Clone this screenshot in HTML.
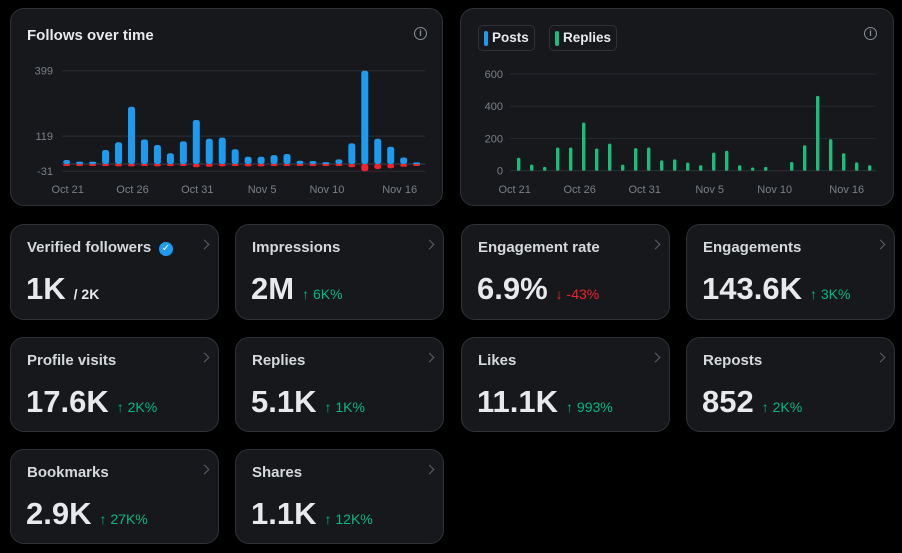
<!DOCTYPE html>
<html><head><meta charset="utf-8"><style>
*{box-sizing:border-box;margin:0;padding:0}
body{width:902px;height:553px;background:#000;font-family:"Liberation Sans",sans-serif;color:#e7e9ea;position:relative;overflow:hidden}
.card{position:absolute;background:#16181c;border:1px solid #2f3336;border-radius:14px}
.lbl{position:absolute;left:16px;top:14px;font-size:15px;font-weight:bold;color:#d6d9db;white-space:nowrap}
.val{position:absolute;left:15px;top:46px;font-size:31px;font-weight:bold;color:#e7e9ea;letter-spacing:0;white-space:nowrap}
.chg{font-size:14px;font-weight:normal;letter-spacing:0;margin-left:8px}
.up{color:#00ba7c}.dn{color:#f4212e}
.chev{position:absolute;right:10px;top:16px;width:7px;height:7px;border-top:1.5px solid #5b6066;border-right:1.5px solid #5b6066;transform:rotate(45deg)}
.info{position:absolute;width:13px;height:13px;border:1.3px solid #8b9096;border-radius:50%;font-size:9px;line-height:10px;text-align:center;color:#8b9096;font-weight:bold}
svg text{font-family:"Liberation Sans",sans-serif;font-size:11px;fill:#7b8086}
.leg{position:absolute;top:16px;height:26px;border:1px solid #2f3336;border-radius:5px;font-size:13.5px;font-weight:bold;line-height:24px;padding:0 5px 0 13px;color:#e7e9ea}
.leg i{position:absolute;left:5px;top:5px;width:4px;height:15px;border-radius:2px}
</style></head><body>
<div class="card" style="left:10px;top:8px;width:433px;height:198px">
 <div style="position:absolute;left:16px;top:18px;font-size:15px;font-weight:bold">Follows over time</div>
 <div class="info" style="left:403px;top:18px">i</div>
</div>
<div class="card" style="left:460px;top:8px;width:434px;height:198px">
 <div class="leg" style="left:17px">Posts<i style="background:#1d9bf0"></i></div>
 <div class="leg" style="left:88px">Replies<i style="background:#17bf7a"></i></div>
 <div class="info" style="left:403px;top:18px">i</div>
</div>
<svg id="chart" width="902" height="553" style="position:absolute;left:0;top:0"></svg>

<div class="card" style="left:10px;top:224px;width:209px;height:96px"><div class="lbl">Verified followers</div><span style="position:absolute;left:148px;top:17px;width:14px;height:14px;border-radius:50%;background:#1d9bf0;color:#fff;font-size:10px;line-height:14px;text-align:center">✓</span><div class="val">1K<span style="font-size:14px;margin-left:8px">/ 2K</span></div><div class="chev"></div></div>
<div class="card" style="left:235px;top:224px;width:209px;height:96px"><div class="lbl">Impressions</div><div class="val">2M<span class="chg up">↑ 6K%</span></div><div class="chev"></div></div>
<div class="card" style="left:461px;top:224px;width:209px;height:96px"><div class="lbl">Engagement rate</div><div class="val">6.9%<span class="chg dn">↓ -43%</span></div><div class="chev"></div></div>
<div class="card" style="left:686px;top:224px;width:209px;height:96px"><div class="lbl">Engagements</div><div class="val">143.6K<span class="chg up">↑ 3K%</span></div><div class="chev"></div></div>
<div class="card" style="left:10px;top:337px;width:209px;height:95px"><div class="lbl">Profile visits</div><div class="val">17.6K<span class="chg up">↑ 2K%</span></div><div class="chev"></div></div>
<div class="card" style="left:235px;top:337px;width:209px;height:95px"><div class="lbl">Replies</div><div class="val">5.1K<span class="chg up">↑ 1K%</span></div><div class="chev"></div></div>
<div class="card" style="left:461px;top:337px;width:209px;height:95px"><div class="lbl">Likes</div><div class="val">11.1K<span class="chg up">↑ 993%</span></div><div class="chev"></div></div>
<div class="card" style="left:686px;top:337px;width:209px;height:95px"><div class="lbl">Reposts</div><div class="val">852<span class="chg up">↑ 2K%</span></div><div class="chev"></div></div>
<div class="card" style="left:10px;top:449px;width:209px;height:95px"><div class="lbl">Bookmarks</div><div class="val">2.9K<span class="chg up">↑ 27K%</span></div><div class="chev"></div></div>
<div class="card" style="left:235px;top:449px;width:209px;height:95px"><div class="lbl">Shares</div><div class="val">1.1K<span class="chg up">↑ 12K%</span></div><div class="chev"></div></div>

<script>
const dateLabels=["Oct 21","Oct 26","Oct 31","Nov 5","Nov 10","Nov 16"];
const dateLabelIdx=[0,5,10,15,20,26];
const followsGained=[17,10,10,60,93,245,105,81,46,97,188,108,113,63,31,31,38,43,14,13,8,20,88,399,108,74,28,7];
const followsLost=[-3,-2,-3,-2,-10,-10,-8,-10,-8,-8,-14,-12,-10,-5,-10,-10,-8,-8,-6,-4,-2,-6,-14,-31,-22,-18,-12,-2];
const followTicks=[399,119,-31];
const replies=[80,38,24,144,144,298,138,168,38,140,144,64,70,50,34,112,124,34,20,24,0,54,158,464,196,108,52,34];
const replyTicks=[600,400,200,0];
const svg=document.getElementById('chart');
const NS='http://www.w3.org/2000/svg';
function mk(tag,attrs){const e=document.createElementNS(NS,tag);for(const k in attrs)e.setAttribute(k,attrs[k]);svg.appendChild(e);return e;}
const x1=i=>66.7+i*12.96, y1=v=>164-v*0.2338;
const x2=i=>518.7+i*13.0, y2=v=>170.7-v*0.1612;
followTicks.forEach(t=>{
 const l=mk('line',{x1:62,x2:425,y1:y1(t),y2:y1(t),stroke:'#2a2d31','stroke-width':1});
 
 
 const tx=mk('text',{x:53,y:y1(t)+4,'text-anchor':'end'});tx.textContent=t;
 
 
});
const bl=mk('line',{x1:62,x2:425,y1:y1(0),y2:y1(0),stroke:'#3e4246','stroke-width':1});


followsGained.forEach((v,i)=>{
 const r=mk('rect',{x:x1(i)-3.5,y:y1(v),width:7,height:Math.max(2,y1(0)-y1(v)),rx:2.5,fill:'#1d9bf0'});
 
 
});
followsLost.forEach((v,i)=>{
 const r=mk('rect',{x:x1(i)-3.5,y:y1(0),width:7,height:Math.max(2,y1(v)-y1(0)),rx:2.5,fill:'#f4212e'});
 
 
});
dateLabels.forEach((d,k)=>{
 const i=dateLabelIdx[k];
 const t=mk('text',{x:k==5?x1(i)-4:x1(i)+1,y:193,'text-anchor':'middle'});t.textContent=d;
 
 
});
replyTicks.forEach(t=>{
 const l=mk('line',{x1:510,x2:876,y1:y2(t),y2:y2(t),stroke:t?'#24272b':'#2f3336','stroke-width':1});
 
 
 const tx=mk('text',{x:503,y:y2(t)+4,'text-anchor':'end'});tx.textContent=t;
 
 
});
replies.forEach((v,i)=>{
 if(v<=0)return;
 const r=mk('rect',{x:x2(i)-1.7,y:y2(v),width:3.4,height:y2(0)-y2(v),rx:1.5,fill:'#17bf7a'});
 
 
});
dateLabels.forEach((d,k)=>{
 const i=dateLabelIdx[k];
 const t=mk('text',{x:k==5?x2(i)-10:x2(i)-4,y:193,'text-anchor':'middle'});t.textContent=d;
 
 
});
</script>
</body></html>
